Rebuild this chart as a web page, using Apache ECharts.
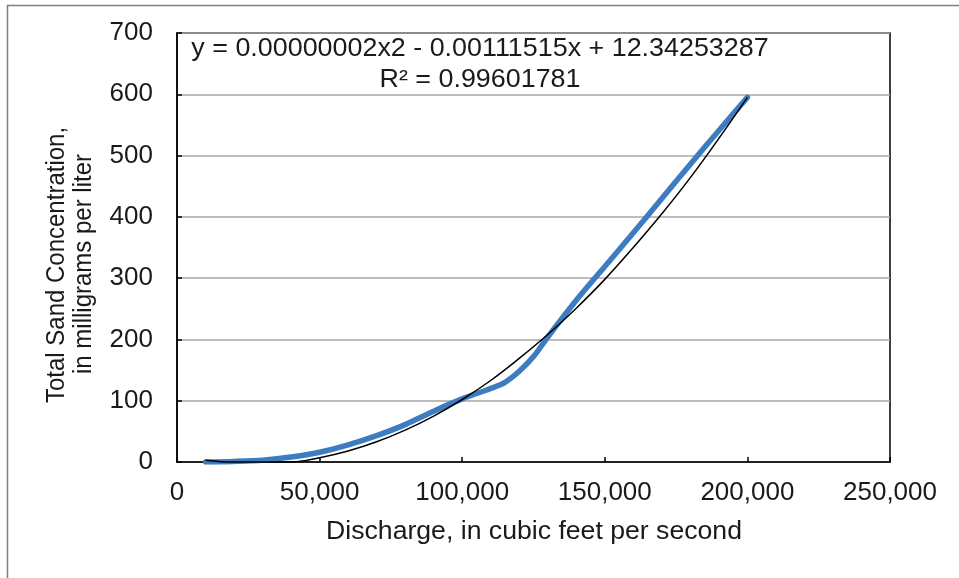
<!DOCTYPE html>
<html>
<head>
<meta charset="utf-8">
<script src="https://cdn.jsdelivr.net/npm/echarts@6/dist/echarts.min.js"></script>
<style>
  html, body { margin: 0; padding: 0; background: #fff; }
  #chart { width: 959px; height: 578px; }
</style>
</head>
<body>
<div id="chart"></div>
<script>
// Discharge (cubic feet per second) and measured total sand concentration (mg/L)
const dischargeObserved = [10000, 20000, 30000, 40000, 50000, 60000, 70000, 80000, 90000, 100000,
  110000, 115000, 120000, 125000, 130000, 140000, 150000, 160000, 170000, 180000, 190000, 200000];
const sandObserved = [0, 1, 3, 8, 16, 28, 43, 61, 83, 103,
  120, 130, 148, 172, 204, 264, 319, 374, 430, 486, 541, 595];

// Polynomial trendline (second order) through the same range
const dischargeTrend = [10000, 20000, 30000, 40000, 50000, 60000, 70000, 80000, 90000, 100000,
  110000, 120000, 130000, 140000, 150000, 160000, 170000, 180000, 190000, 200000];
const sandTrend = [3, 0, 0, 0, 7, 18, 33, 52, 75, 102,
  133, 169, 208, 251, 298, 350, 405, 464, 528, 595];

const equationText = 'y = 0.00000002x2 - 0.00111515x + 12.34253287';
const rSquaredText = 'R² = 0.99601781';
const xTitle = 'Discharge, in cubic feet per second';
const yTitleLines = ['Total Sand Concentration,', 'in milligrams per liter'];

const FONT = '"Liberation Sans", Arial, sans-serif';
const FS = 26;
const TEXT = '#1a1a1a';

const zip = (xs, ys) => xs.map((x, i) => [x, ys[i]]);

// Horizontal text with a slightly widened glyph shape
const hText = (text, x, y, size, sx) => ({
  type: 'text', z: 10, x, y, scaleX: sx,
  style: { text, fill: TEXT, font: size + 'px ' + FONT, textAlign: 'center', textVerticalAlign: 'middle' }
});
// Vertical (rotated) axis title line
const vText = (text, x, y, size, sy) => ({
  type: 'text', z: 10, x, y, rotation: Math.PI / 2, scaleY: sy,
  style: { text, fill: TEXT, font: size + 'px ' + FONT, textAlign: 'center', textVerticalAlign: 'middle' }
});

const chart = echarts.init(document.getElementById('chart'), null, { renderer: 'canvas' });

chart.setOption({
  animation: false,
  backgroundColor: '#ffffff',
  grid: {
    left: 177, right: 69, top: 33, bottom: 116,
    show: true, borderColor: '#000', borderWidth: 1.5, backgroundColor: 'transparent'
  },
  xAxis: {
    type: 'value',
    min: 0, max: 250000, interval: 50000,
    axisLine: { show: true, lineStyle: { color: '#000', width: 1.5 } },
    axisTick: { show: true, inside: true, length: 5, lineStyle: { color: '#000', width: 1.5 } },
    splitLine: { show: false },
    axisLabel: {
      margin: 18, color: TEXT, fontFamily: FONT, fontSize: FS,
      formatter: v => v.toLocaleString('en-US')
    }
  },
  yAxis: {
    type: 'value',
    min: 0, max: 700, interval: 100,
    axisLine: { show: true, lineStyle: { color: '#000', width: 1.5 } },
    axisTick: { show: true, inside: true, length: 5, lineStyle: { color: '#000', width: 1.5 } },
    splitLine: { show: true, lineStyle: { color: '#a6a6a6', width: 1.5 } },
    axisLabel: { margin: 24, color: TEXT, fontFamily: FONT, fontSize: FS }
  },
  series: [
    {
      name: 'Total sand concentration',
      type: 'line',
      data: zip(dischargeObserved, sandObserved),
      smooth: 0.3,
      showSymbol: false,
      lineStyle: { color: '#3d7cc1', width: 5.5, cap: 'round', join: 'round' },
      z: 2
    },
    {
      name: 'Poly. trendline',
      type: 'line',
      data: zip(dischargeTrend, sandTrend),
      smooth: 0.4,
      showSymbol: false,
      clip: false,
      lineStyle: { color: '#000', width: 1.5 },
      z: 3
    }
  ],
  graphic: [
    {
      type: 'rect', silent: true, z: 0,
      shape: { x: 7.5, y: 5.5, width: 1000, height: 1000 },
      style: { fill: 'none', stroke: '#7f7f7f', lineWidth: 1.5 }
    },
    hText(equationText, 480, 49, 25, 1.075),
    hText(rSquaredText, 480, 80, 25, 1.075),
    hText(xTitle, 534, 532, 25, 1.065),
    vText(yTitleLines[0], 57, 265, 24, 1.08),
    vText(yTitleLines[1], 84, 264, 24, 1.08)
  ]
});
</script>
</body>
</html>
